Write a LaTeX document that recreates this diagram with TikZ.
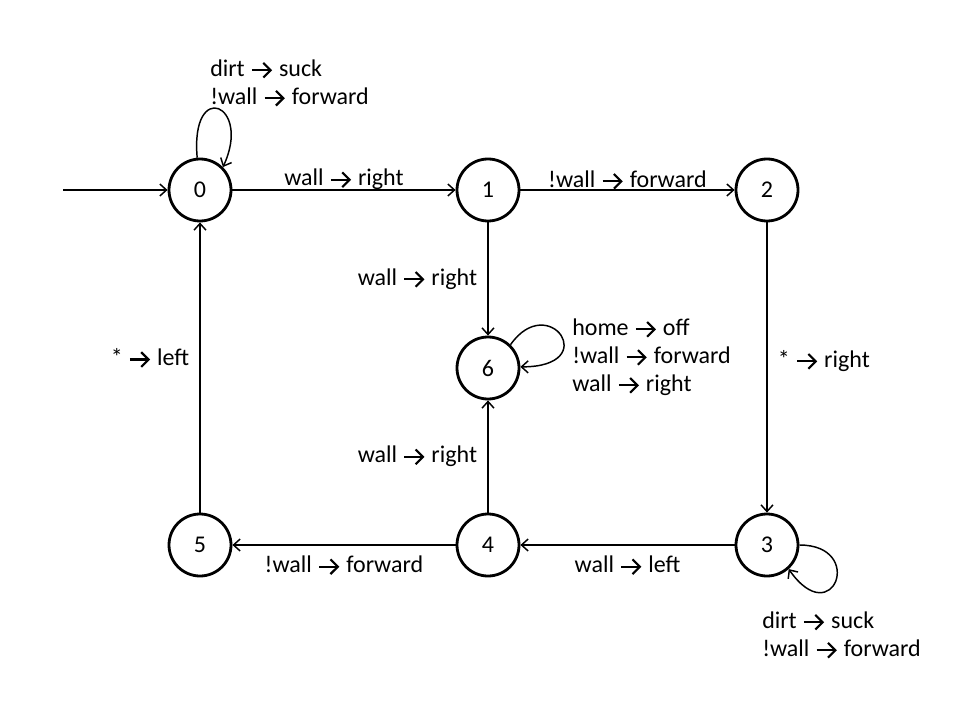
\documentclass[tikz,border=0pt]{standalone}
\usepackage{fontspec}
\setmainfont{Carlito}
\usetikzlibrary{arrows.meta}
\newcommand{\ra}{\hspace{0.5pt}\tikz[baseline=-4.4pt,x=1pt,y=1pt,line width=1.6pt,-]{\draw[-] (0,0)--(13.5pt,0); \draw[-,line join=miter] (8.5pt,5.5pt)--(14pt,0)--(8.5pt,-5.5pt);}\hspace{1.5pt}}
\begin{document}
\begin{tikzpicture}[x=0.75pt,y=-0.75pt,
  state/.style={circle,draw,line width=2.1pt,minimum size=46.5pt,inner sep=0pt,font=\fontsize{18}{21}\selectfont},
  conn/.style={line width=1.1pt,-{Straight Barb[length=5pt,width=9pt,line width=1.1pt]}},
  lbl/.style={font=\fontsize{18}{21}\selectfont,inner sep=4pt},
  loopl/.style={font=\fontsize{18}{21}\selectfont,align=left,inner sep=0pt,anchor=west}]
\useasboundingbox (0,0) rectangle (960,720);
\node[state] (n0) at (200,190) {0};
\node[state] (n1) at (488,190) {1};
\node[state] (n2) at (767,190) {2};
\node[state] (n6) at (488,368) {6};
\node[state] (n5) at (200,545) {5};
\node[state] (n4) at (488,545) {4};
\node[state] (n3) at (767,545) {3};
\coordinate (start) at (63,190);
\draw[conn] (start) -- (n0);
\draw[conn] (n0) -- node[lbl,above,inner sep=0pt]{wall \ra{} right} (n1);
\draw[conn] (n1) -- node[lbl,above,inner sep=0pt]{!wall \ra{} forward} (n2);
\draw[conn] (n1) -- node[lbl,left,inner sep=8pt]{wall \ra{} right} (n6);
\draw[conn] (n2) -- node[lbl,right,inner sep=8pt,yshift=5pt]{* \ra{} right} (n3);
\draw[conn] (n3) -- node[lbl,below,inner sep=8pt]{wall \ra{} left} (n4);
\draw[conn] (n4) -- node[lbl,below,inner sep=8pt]{!wall \ra{} forward} (n5);
\draw[conn] (n4) -- node[lbl,left,inner sep=8pt]{wall \ra{} right} (n6);
\draw[conn] (n5) -- node[lbl,left,inner sep=8pt,yshift=7pt]{* \ra{} left} (n0);
% loops
\draw[conn] (n0.95) .. controls +(95:60pt) and +(65:52pt) .. (n0.45);
\draw[conn] (n6.46) .. controls +(55:50pt) and +(0:62pt) .. (n6.2);
\draw[conn] (n3.0) .. controls +(0:50pt) and +(-55:58pt) .. (n3.-48);
\node[loopl] (l0) at (210,83) {dirt \ra{} suck\\!wall \ra{} forward};
\node[loopl] (l6) at (572,357) {home \ra{} off\\!wall \ra{} forward\\wall \ra{} right};
\node[loopl] (l3) at (762,635) {dirt \ra{} suck\\!wall \ra{} forward};
\end{tikzpicture}
\end{document}
